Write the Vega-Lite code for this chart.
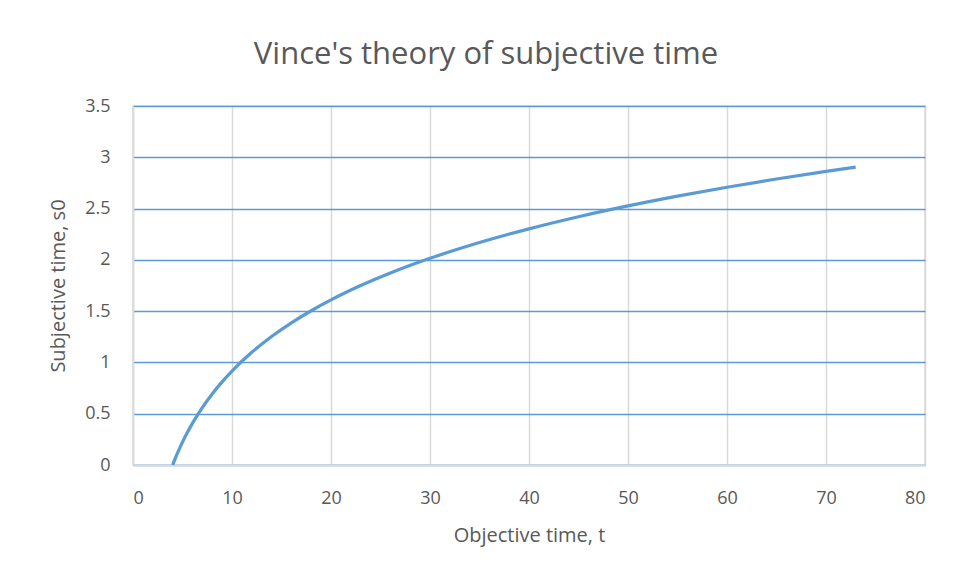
{
  "$schema": "https://vega.github.io/schema/vega-lite/v6.json",
  "autosize": "none",
  "width": 792,
  "height": 359,
  "padding": {"left": 133, "top": 106, "right": 31, "bottom": 112},
  "background": "white",
  "title": {
    "text": "Vince's theory of subjective time",
    "font": "Open Sans",
    "fontSize": 31,
    "fontWeight": "normal",
    "color": "#595959",
    "anchor": "middle",
    "offset": 26,
    "dx": -43
  },
  "data": {
    "values": [
      {"t": 4, "s": 0},
      {"t": 4.25, "s": 0.0606},
      {"t": 4.5, "s": 0.1178},
      {"t": 5, "s": 0.2231},
      {"t": 5.5, "s": 0.3185},
      {"t": 6, "s": 0.4055},
      {"t": 7, "s": 0.5596},
      {"t": 8, "s": 0.6931},
      {"t": 9, "s": 0.8109},
      {"t": 10, "s": 0.9163},
      {"t": 12, "s": 1.0986},
      {"t": 14, "s": 1.2528},
      {"t": 16, "s": 1.3863},
      {"t": 18, "s": 1.5041},
      {"t": 20, "s": 1.6094},
      {"t": 23, "s": 1.7492},
      {"t": 26, "s": 1.8718},
      {"t": 30, "s": 2.0149},
      {"t": 35, "s": 2.1691},
      {"t": 40, "s": 2.3026},
      {"t": 45, "s": 2.4204},
      {"t": 50, "s": 2.5257},
      {"t": 55, "s": 2.621},
      {"t": 60, "s": 2.7081},
      {"t": 65, "s": 2.7881},
      {"t": 70, "s": 2.8622},
      {"t": 73, "s": 2.9042}
    ]
  },
  "mark": {"type": "line", "color": "#5b9bd5", "strokeWidth": 3.25, "interpolate": "monotone", "strokeCap": "butt"},
  "encoding": {
    "x": {
      "field": "t",
      "type": "quantitative",
      "scale": {"domain": [0, 80], "nice": false},
      "axis": {
        "title": "Objective time, t",
        "values": [0, 10, 20, 30, 40, 50, 60, 70, 80],
        "grid": true,
        "gridColor": "#d9d9d9",
        "gridWidth": 1.5,
        "domainColor": "#d9d9d9",
        "domainWidth": 1.5,
        "ticks": false,
        "labelPadding": 24,
        "labelFont": "Open Sans",
        "labelFontSize": 18,
        "labelColor": "#595959",
        "titleFont": "Open Sans",
        "titleFontSize": 20,
        "titleFontWeight": "normal",
        "titleColor": "#595959",
        "titlePadding": 18
      }
    },
    "y": {
      "field": "s",
      "type": "quantitative",
      "scale": {"domain": [0, 3.5], "nice": false},
      "axis": {
        "title": "Subjective time, s0",
        "values": [0, 0.5, 1, 1.5, 2, 2.5, 3, 3.5],
        "labelExpr": "datum.value",
        "grid": true,
        "gridColor": "#5b9bd5",
        "gridWidth": 1.5,
        "domainColor": "#d9d9d9",
        "domainWidth": 1.5,
        "ticks": false,
        "labelPadding": 23,
        "labelFont": "Open Sans",
        "labelFontSize": 18,
        "labelColor": "#595959",
        "titleFont": "Open Sans",
        "titleFontSize": 20,
        "titleFontWeight": "normal",
        "titleColor": "#595959",
        "titlePadding": 16
      }
    }
  },
  "config": {"view": {"stroke": "#d9d9d9", "strokeWidth": 1.5}}
}
